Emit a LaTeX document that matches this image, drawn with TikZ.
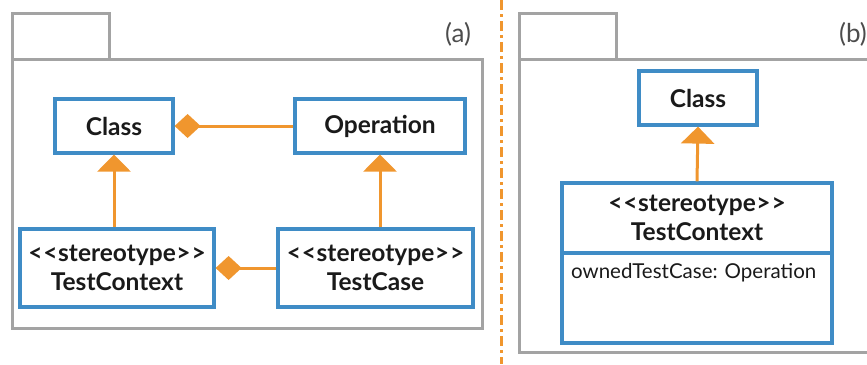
\documentclass[tikz,border=0pt]{standalone}
\usepackage{fontspec}
\setmainfont{Lato}[Ligatures=ResetAll]
\usetikzlibrary{arrows.meta}
\definecolor{boxblue}{HTML}{3F8CC6}
\definecolor{umlorange}{HTML}{F0962E}
\definecolor{pkggray}{HTML}{A3A3A3}
\definecolor{txt}{HTML}{1A1A1A}
\newcommand\oqq{<\kern1pt<\kern0.5pt}
\newcommand\cqq{\kern0.5pt>\kern1pt>}
\tikzset{
  cls/.style={draw=boxblue, line width=3.2pt, fill=white, inner sep=0pt, align=center,
    font=\fontsize{24.5}{29}\selectfont\bfseries, text=txt},
  pkg/.style={draw=pkggray, line width=3pt},
  gen/.style={draw=umlorange, line width=3pt, -{Triangle[width=33pt,length=17pt,fill=umlorange]}},
  comp/.style={draw=umlorange, line width=3pt, {Diamond[width=24pt,length=26pt,fill=umlorange]}-},
  lbl/.style={font=\fontsize{26}{30}\selectfont, text=black!70, inner sep=0pt},
  attr/.style={font=\fontsize{20.5}{24}\selectfont, text=txt, inner sep=0pt, anchor=west}
}
\begin{document}
\begin{tikzpicture}[x=1pt,y=-1pt]
\useasboundingbox (0,0) rectangle (867,364);
% separator
\draw[umlorange, line width=3pt, dash pattern=on 10pt off 4pt on 3pt off 4pt] (501,0) -- (501,364);
% package (a)
\draw[pkg] (12,59) -- (12,13) -- (109,13) -- (109,59);
\draw[pkg] (12,59) rectangle (482,328);
\node[lbl] (la) at (458,34) {(a)};
% package (b)
\draw[pkg] (519,59) -- (519,13) -- (616,13) -- (616,59);
\draw[pkg] (872,59) -- (519,59) -- (519,352) -- (872,352);
\node[lbl] (lb) at (853,34) {(b)};
% (a) classes
\node[cls, minimum width=118pt, minimum height=54pt] (class) at (114,126) {Class};
\node[cls, minimum width=170pt, minimum height=54pt] (op) at (380,126) {Operation};
\node[cls, minimum width=194pt, minimum height=78pt] (tc) at (117,268) {\oqq stereotype\cqq\\TestContext};
\node[cls, minimum width=195pt, minimum height=78pt] (tcase) at (375.5,268) {\oqq stereotype\cqq\\TestCase};
\draw[gen] (tc.north -| class.south) -- (class.south);
\draw[gen] (tcase.north -| op.south) -- (op.south);
\draw[comp] (class.east) -- (op.west |- class.east);
\draw[comp] (tc.east) -- (tcase.west |- tc.east);
% (b)
\node[cls, minimum width=118pt, minimum height=54pt] (classb) at (698,98) {Class};
\node[cls, minimum width=270pt, minimum height=160pt] (tcb) at (697,263) {};
\node[font=\fontsize{24.5}{29}\selectfont\bfseries, text=txt, align=center, inner sep=0pt] (tcbt) at (697,218) {\oqq stereotype\cqq\\TestContext};
\draw[boxblue, line width=3.2pt] (tcb.west |- 0,253) coordinate (dl) -- (tcb.east |- 0,253) coordinate (dr);
\node[attr] (own) at (571,273) {ownedTestCase: Operation};
\draw[gen] (tcb.north) -- (classb.south);
\end{tikzpicture}
\end{document}
